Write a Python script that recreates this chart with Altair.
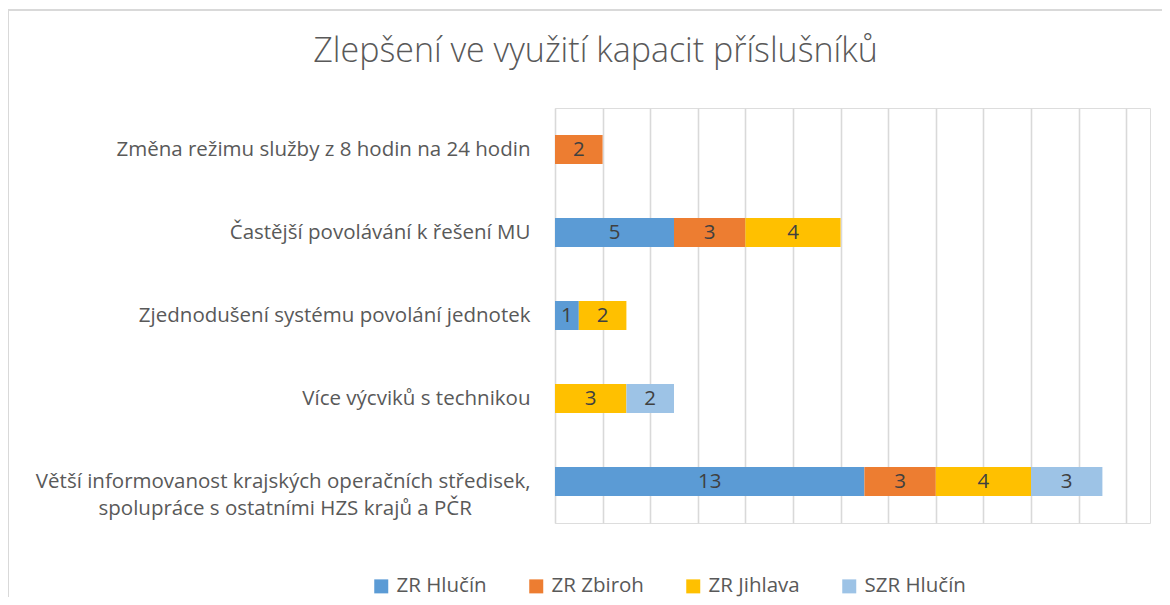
import altair as alt
import pandas as pd

categories = [
    "Změna režimu služby z 8 hodin na 24 hodin",
    "Častější povolávání k řešení MU",
    "Zjednodušení systému povolání jednotek",
    "Více výcviků s technikou",
    "Větší informovanost krajských operačních středisek,|spolupráce s ostatními HZS krajů a PČR",
]
series = ["ZR Hlučín", "ZR Zbiroh", "ZR Jihlava", "SZR Hlučín"]
colors = ["#5B9BD5", "#ED7D31", "#FFC000", "#9DC3E6"]

zr_hlucin = [0, 5, 1, 0, 13]
zr_zbiroh = [2, 3, 0, 0, 3]
zr_jihlava = [0, 4, 2, 3, 4]
szr_hlucin = [0, 0, 0, 2, 3]

rows = []
for si, (s, vals) in enumerate(zip(series, [zr_hlucin, zr_zbiroh, zr_jihlava, szr_hlucin])):
    for c, v in zip(categories, vals):
        if v > 0:
            rows.append({"cat": c, "series": s, "order": si, "value": v})
df = pd.DataFrame(rows)

FONT = "Open Sans"
GRAY = "#595959"
# trailing no-break spaces (kept by a final zero-width char) centre the 2nd line
pad = "\u00a0" * 11 + "\u200b"

label_expr = (
    "indexof(datum.label, '|') >= 0 ? "
    "[split(datum.label, '|')[0], split(datum.label, '|')[1] + '" + pad + "'] : datum.label"
)

y_enc = alt.Y(
    "cat:N",
    sort=categories,
    scale=alt.Scale(paddingInner=0.65, paddingOuter=0.325),
    axis=alt.Axis(
        title=None, domain=False, ticks=False, grid=False,
        labelFont=FONT, labelFontSize=20.5, labelColor=GRAY, labelPadding=25,
        labelLimit=600, labelExpr=label_expr, labelLineHeight=27,
    ),
)

base = alt.Chart(df).transform_stack(
    stack="value", groupby=["cat"], as_=["x0", "x1"], sort=[alt.SortField("order")]
).transform_calculate(mid="(datum.x0 + datum.x1) / 2")

x_scale = alt.Scale(domain=[0, 25], nice=False)

bars = base.mark_bar(cornerRadius=0).encode(
    x=alt.X(
        "x0:Q", scale=x_scale,
        axis=alt.Axis(
            title=None, labels=False, ticks=False, domain=False,
            values=list(range(26)), gridColor="#d9d9d9", gridWidth=1.6,
        ),
    ),
    x2="x1:Q",
    y=y_enc,
    color=alt.Color(
        "series:N",
        sort=series,
        scale=alt.Scale(domain=series, range=colors),
        legend=alt.Legend(
            title=None, orient="none", legendX=-184, legendY=468,
            direction="horizontal", columns=4, symbolType="square",
            symbolSize=196, symbolStrokeWidth=0, labelFont=FONT, labelFontSize=20.5,
            labelColor=GRAY, columnPadding=39, labelOffset=5,
        ),
    ),
)

texts = base.mark_text(font=FONT, fontSize=20.5, color="#404040").encode(
    x=alt.X("mid:Q", scale=x_scale),
    y=alt.Y("cat:N", sort=categories),
    text="value:Q",
)

frame = alt.Chart(alt.Data(values=[{}])).mark_rect(
    fill=None, stroke="#d9d9d9", strokeWidth=2
).encode(
    x=alt.value(-547), x2=alt.value(700), y=alt.value(-98), y2=alt.value(600)
)

chart = alt.layer(frame, bars, texts).properties(
    width=595,
    height=415,
    autosize=alt.AutoSizeParams(type="none"),
    padding={"left": 547, "top": 100, "right": 12, "bottom": 74},
    title=alt.TitleParams(
        "Zlepšení ve využití kapacit příslušníků",
        font=FONT, fontSize=34, fontWeight=300, color=GRAY,
        anchor="middle", dx=-257, offset=0, dy=87, baseline="alphabetic",
    ),
).configure_view(stroke=None).configure(background="white")

chart.save("out.html", embed_options={"renderer": "svg", "actions": False})
